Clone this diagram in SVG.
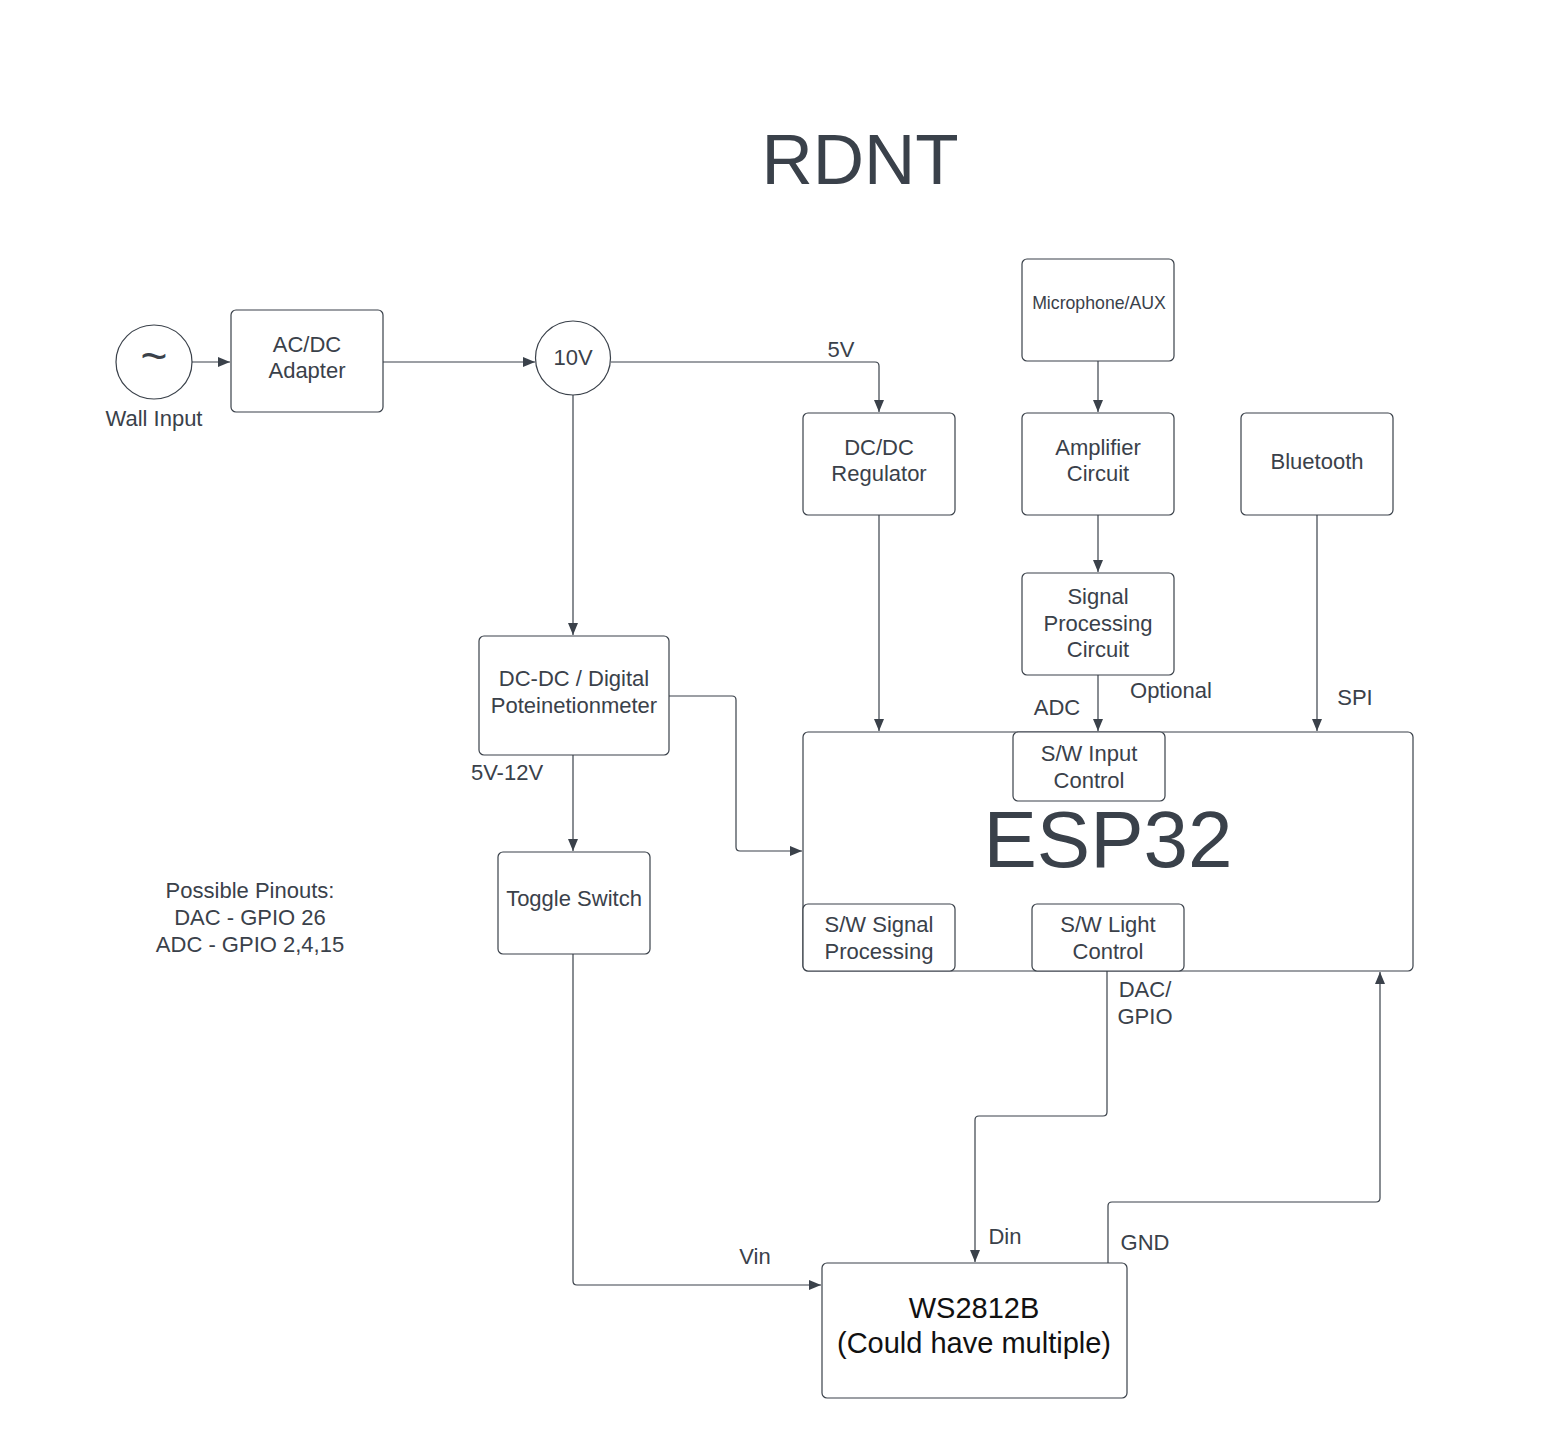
<svg xmlns="http://www.w3.org/2000/svg" width="1567" height="1439" viewBox="0 0 1567 1439">
<defs>
<marker id="ah" viewBox="0 0 12 10" refX="12" refY="5" markerWidth="12" markerHeight="10" markerUnits="userSpaceOnUse" orient="auto">
<path d="M0,0 L12,5 L0,10 Z" fill="#3a414a"/>
</marker>
<style>
.box{fill:#fff;stroke:#3a414a;stroke-width:1.2}
.t{font-family:"Liberation Sans",Arial,sans-serif;font-size:22px;fill:#3a414a;text-anchor:middle}
.lbl{font-family:"Liberation Sans",Arial,sans-serif;font-size:22px;fill:#3a414a;text-anchor:middle}
.c{fill:none;stroke:#3a414a;stroke-width:1.2}
</style>
</defs>
<rect width="1567" height="1439" fill="#fff"/>
<text x="860" y="184" class="t" style="font-size:71px">RDNT</text>

<g id="connectors">
<path class="c" d="M192,362 L230,362" marker-end="url(#ah)"/>
<path class="c" d="M383,362 L535,362" marker-end="url(#ah)"/>
<path class="c" d="M611,362 L875,362 Q879,362 879,366 L879,412" marker-end="url(#ah)"/>
<path class="c" d="M573,395 L573,635" marker-end="url(#ah)"/>
<path class="c" d="M669,696 L732,696 Q736,696 736,700 L736,847 Q736,851 740,851 L802,851" marker-end="url(#ah)"/>
<path class="c" d="M573,755 L573,851" marker-end="url(#ah)"/>
<path class="c" d="M573,954 L573,1281 Q573,1285 577,1285 L821,1285" marker-end="url(#ah)"/>
<path class="c" d="M1098,361 L1098,412" marker-end="url(#ah)"/>
<path class="c" d="M1098,515 L1098,572" marker-end="url(#ah)"/>
<path class="c" d="M1098,675 L1098,731" marker-end="url(#ah)"/>
<path class="c" d="M1317,515 L1317,731" marker-end="url(#ah)"/>
<path class="c" d="M879,515 L879,731" marker-end="url(#ah)"/>
<path class="c" d="M1013,767 L882,767 Q878,767 878,771 L878,903" marker-end="url(#ah)"/>
<path class="c" d="M955,937 L1031,937" marker-end="url(#ah)"/>
<path class="c" d="M1107,971 L1107,1112 Q1107,1116 1103,1116 L979,1116 Q975,1116 975,1120 L975,1262" marker-end="url(#ah)"/>
<path class="c" d="M1108,1263 L1108,1206 Q1108,1202 1112,1202 L1376,1202 Q1380,1202 1380,1198 L1380,972" marker-end="url(#ah)"/>
<text x="841" y="357" class="lbl">5V</text>
<text x="507" y="780" class="lbl">5V-12V</text>
<text x="755" y="1264" class="lbl">Vin</text>
<text x="1057" y="715" class="lbl">ADC</text>
<text x="1171" y="698" class="lbl">Optional</text>
<text x="1355" y="705" class="lbl">SPI</text>
<text x="1145" y="997" class="lbl">DAC/</text>
<text x="1145" y="1024" class="lbl">GPIO</text>
<text x="1005" y="1244" class="lbl">Din</text>
<text x="1145" y="1250" class="lbl">GND</text>
</g>

<g id="wall-input">
<ellipse cx="154" cy="362" rx="38" ry="37" class="box"/>
<text x="154" y="372" class="t" style="font-size:46px">~</text>
<text x="154" y="426" class="t">Wall Input</text>
</g>
<g id="acdc">
<rect x="231" y="310" width="152" height="102" rx="5" class="box"/>
<text x="307" y="352" class="t">AC/DC</text>
<text x="307" y="378" class="t">Adapter</text>
</g>
<g id="v10">
<ellipse cx="573" cy="358" rx="37.5" ry="37" class="box"/>
<text x="573" y="365" class="t">10V</text>
</g>
<g id="dcdc-reg">
<rect x="803" y="413" width="152" height="102" rx="5" class="box"/>
<text x="879" y="455" class="t">DC/DC</text>
<text x="879" y="481" class="t">Regulator</text>
</g>
<g id="mic">
<rect x="1022" y="259" width="152" height="102" rx="5" class="box"/>
<text x="1099" y="309" class="t" style="font-size:17.7px">Microphone/AUX</text>
</g>
<g id="amp">
<rect x="1022" y="413" width="152" height="102" rx="5" class="box"/>
<text x="1098" y="455" class="t">Amplifier</text>
<text x="1098" y="481" class="t">Circuit</text>
</g>
<g id="sigproc">
<rect x="1022" y="573" width="152" height="102" rx="5" class="box"/>
<text x="1098" y="604" class="t">Signal</text>
<text x="1098" y="631" class="t">Processing</text>
<text x="1098" y="657" class="t">Circuit</text>
</g>
<g id="bluetooth">
<rect x="1241" y="413" width="152" height="102" rx="5" class="box"/>
<text x="1317" y="469" class="t">Bluetooth</text>
</g>
<g id="dcdc-pot">
<rect x="479" y="636" width="190" height="119" rx="5" class="box"/>
<text x="574" y="686" class="t">DC-DC / Digital</text>
<text x="574" y="713" class="t">Poteinetionmeter</text>
</g>
<g id="toggle">
<rect x="498" y="852" width="152" height="102" rx="5" class="box"/>
<text x="574" y="906" class="t">Toggle Switch</text>
</g>
<g id="pinouts">
<text x="250" y="898" class="t">Possible Pinouts:</text>
<text x="250" y="925" class="t">DAC - GPIO 26</text>
<text x="250" y="952" class="t">ADC - GPIO 2,4,15</text>
</g>
<g id="esp32">
<rect x="803" y="732" width="610" height="239" rx="5" class="box"/>
<text x="1108" y="867" class="t" style="font-size:80px">ESP32</text>
</g>
<g id="sw-input">
<rect x="1013" y="732" width="152" height="69" rx="5" class="box"/>
<text x="1089" y="761" class="t">S/W Input</text>
<text x="1089" y="788" class="t">Control</text>
</g>
<g id="sw-signal">
<rect x="803" y="904" width="152" height="67" rx="5" class="box"/>
<text x="879" y="932" class="t">S/W Signal</text>
<text x="879" y="959" class="t">Processing</text>
</g>
<g id="sw-light">
<rect x="1032" y="904" width="152" height="67" rx="5" class="box"/>
<text x="1108" y="932" class="t">S/W Light</text>
<text x="1108" y="959" class="t">Control</text>
</g>
<g id="ws2812b">
<rect x="822" y="1263" width="305" height="135" rx="5" class="box"/>
<text x="974" y="1318" class="t" style="font-size:29px;fill:#111">WS2812B</text>
<text x="974" y="1353" class="t" style="font-size:29px;fill:#111">(Could have multiple)</text>
</g>
</svg>
